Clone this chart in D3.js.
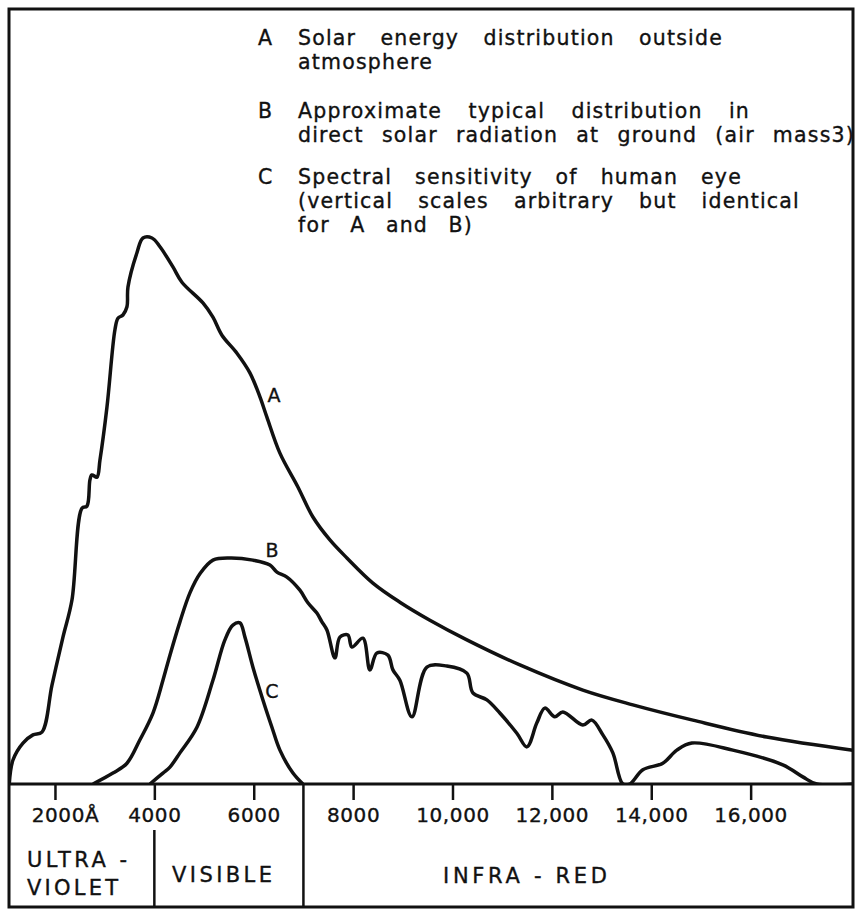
<!DOCTYPE html>
<html>
<head>
<meta charset="utf-8">
<script src="https://cdn.jsdelivr.net/npm/d3@7/dist/d3.min.js"></script>
<style>
	body { margin: 0; background: #fff; }
	svg text { font-family: "DejaVu Sans", sans-serif; fill: #111; stroke: #111; stroke-width: 0.35px; }
</style>
</head>
<body>
<svg id="chart" width="857" height="913"></svg>
<script>
'use strict';

// wavelength in angstrom, relative energy (arbitrary units, A peak = 100)
var curveA = [
	[1080, 0], [1155, 4.4], [1356, 7.5], [1557, 9.0], [1738, 9.5], [1940, 18.1],
	[2161, 26.9], [2342, 33.7], [2543, 50.5], [2644, 50.9], [2704, 55.7], [2744, 56.6],
	[2845, 56.2], [2905, 59.3], [3046, 69.0], [3207, 83.2], [3268, 85.3], [3368, 85.9],
	[3449, 87.4], [3469, 91.0], [3650, 97.3], [3771, 100], [3952, 100], [4113, 98.4],
	[4374, 94.7], [4555, 91.9], [4978, 88.1], [5179, 85.5], [5360, 82.2], [5662, 78.9],
	[5923, 75.3], [6125, 70.9], [6265, 67.2], [6527, 60.6], [6889, 54.4], [7191, 48.9],
	[7533, 44.7], [7875, 41.4], [8398, 36.8], [8941, 33.3], [9545, 30.0], [10289, 26.4],
	[11356, 21.8], [12623, 17.2], [13629, 14.5], [14837, 11.7], [16325, 8.6], [18056, 6.2]
];

var curveB = [
	[2765, 0], [3167, 2.0], [3449, 3.8], [3710, 8.1], [3972, 13.0], [4173, 19.0],
	[4314, 23.6], [4515, 29.7], [4716, 35.0], [4917, 38.5], [5179, 41.0], [5521, 41.4],
	[5984, 41.0], [6326, 40.1], [6467, 38.8], [6668, 37.9], [6929, 35.5], [7090, 33.2],
	[7271, 31.3], [7372, 29.7], [7473, 28.2], [7634, 23.1], [7734, 26.9], [7895, 27.3],
	[7976, 25.1], [8197, 26.7], [8338, 20.9], [8479, 24.0], [8700, 23.6], [8801, 20.9],
	[8941, 19.0], [9183, 12.3], [9485, 21.4], [9887, 21.6], [10289, 20.3], [10410, 16.7],
	[10692, 15.4], [10953, 13.0], [11295, 9.3], [11497, 6.8], [11698, 11.2], [11859, 13.9],
	[12060, 12.3], [12221, 13.2], [12623, 10.8], [12804, 11.7], [13026, 9.0], [13227, 5.7],
	[13428, 0], [13569, 0], [13831, 2.6], [14233, 3.8], [14515, 6.2], [14816, 7.5],
	[15641, 6.2], [16647, 3.5], [17050, 1.3], [17331, 0], [18056, 0]
];

var curveC = [
	[3911, 0], [4173, 2.0], [4314, 3.1], [4515, 5.7], [4857, 10.4], [5179, 19.0],
	[5420, 26.4], [5581, 29.1], [5722, 29.5], [5823, 26.9], [5984, 21.4], [6185, 15.4],
	[6366, 10.4], [6527, 6.2], [6789, 2.0], [6990, 0]
];

var tickValues = [2000, 4000, 6000, 8000, 10000, 12000, 14000, 16000];
var tickLabels = ["2000Å", "4000", "6000", "8000", "10,000", "12,000", "14,000", "16,000"];

// region boundaries in angstrom
var uvVisible = 4000;
var visibleIr = 7000;

var legendRows = [
	{ key: "A", lines: ["Solar energy distribution outside", "atmosphere"] },
	{ key: "B", lines: ["Approximate typical distribution in", "direct solar radiation at ground (air mass3)"] },
	{ key: "C", lines: ["Spectral sensitivity of human eye", "(vertical scales arbitrary but identical", "for A and B)"] }
];

var curveLabels = [
	{ text: "A", wl: 6406, v: 70 },
	{ text: "B", wl: 6366, v: 41.6 },
	{ text: "C", wl: 6366, v: 15.7 }
];

var FRAME_LEFT = 9;
var FRAME_RIGHT = 853;
var FRAME_TOP = 9;
var AXIS_Y = 784;
var FRAME_BOTTOM = 907;

var svg = d3.select("#chart");

var x = d3.scaleLinear()
	.domain([1075, 18060])
	.range([FRAME_LEFT, FRAME_RIGHT]);

var y = d3.scaleLinear()
	.domain([0, 100])
	.range([AXIS_Y, 238]);

svg.append("clipPath")
	.attr("id", "plot-clip")
	.append("rect")
	.attr("x", FRAME_LEFT)
	.attr("y", FRAME_TOP)
	.attr("width", FRAME_RIGHT - FRAME_LEFT)
	.attr("height", AXIS_Y - FRAME_TOP);

// outer frame
svg.append("rect")
	.attr("x", FRAME_LEFT)
	.attr("y", FRAME_TOP)
	.attr("width", FRAME_RIGHT - FRAME_LEFT)
	.attr("height", FRAME_BOTTOM - FRAME_TOP)
	.style("fill", "none")
	.style("stroke", "#111")
	.style("stroke-width", 3);

// curves
var line = d3.line()
	.x(function (d) { return x(d[0]); })
	.y(function (d) { return y(d[1]); })
	.curve(d3.curveCatmullRom.alpha(0.5));

[curveA, curveB, curveC].forEach(function (data) {
	svg.append("path")
		.datum(data)
		.attr("d", line)
		.attr("clip-path", "url(#plot-clip)")
		.style("fill", "none")
		.style("stroke", "#111")
		.style("stroke-width", 3.5)
		.style("stroke-linejoin", "round");
});

svg.selectAll(".curve-label")
	.data(curveLabels)
	.enter()
	.append("text")
	.classed("curve-label", 1)
	.attr("x", function (d) { return x(d.wl); })
	.attr("y", function (d) { return y(d.v); })
	.attr("text-anchor", "middle")
	.style("font-size", "19px")
	.text(function (d) { return d.text; });

// axis
var axis = d3.axisBottom(x)
	.tickValues(tickValues)
	.tickSize(16)
	.tickFormat(function (d, i) { return tickLabels[i]; });

var axisG = svg.append("g")
	.attr("transform", "translate(0," + AXIS_Y + ")")
	.call(axis);

axisG.select(".domain").remove();
axisG.selectAll(".tick line")
	.style("stroke", "#111")
	.style("stroke-width", 2.5);
axisG.selectAll(".tick text")
	.attr("y", 38)
	.attr("dy", null)
	.attr("dx", function (d, i) { return i === 0 ? 10 : 0; })
	.style("font-family", "DejaVu Sans, sans-serif")
	.style("font-size", "20px")
	.style("fill", "#111")
	.style("letter-spacing", "0.6px");

svg.append("line")
	.attr("x1", FRAME_LEFT).attr("x2", FRAME_RIGHT)
	.attr("y1", AXIS_Y).attr("y2", AXIS_Y)
	.style("stroke", "#111")
	.style("stroke-width", 3);

// region dividers
svg.append("line")
	.attr("x1", x(uvVisible)).attr("x2", x(uvVisible))
	.attr("y1", 830).attr("y2", FRAME_BOTTOM)
	.style("stroke", "#111")
	.style("stroke-width", 2.5);

svg.append("line")
	.attr("x1", x(visibleIr)).attr("x2", x(visibleIr))
	.attr("y1", AXIS_Y).attr("y2", FRAME_BOTTOM)
	.style("stroke", "#111")
	.style("stroke-width", 2.5);

// region names
var regionText = [
	{ text: "ULTRA -", x: 27, y: 867, len: 100 },
	{ text: "VIOLET", x: 27, y: 895, len: 91 },
	{ text: "VISIBLE", x: 172, y: 882, len: 100 },
	{ text: "INFRA - RED", x: 443, y: 883, len: 164 }
];

svg.selectAll(".region")
	.data(regionText)
	.enter()
	.append("text")
	.classed("region", 1)
	.attr("x", function (d) { return d.x; })
	.attr("y", function (d) { return d.y; })
	.attr("textLength", function (d) { return d.len; })
	.attr("lengthAdjust", "spacing")
	.style("font-size", "21px")
	.text(function (d) { return d.text; });

// legend: widen the word gaps until each line reaches its width in the original
var legendBaselines = [[45, 69], [118, 142], [184, 208, 232]];
var legendWidths = [[425, 132], [452, 557], [444, 502, 175]];

legendRows.forEach(function (row, r) {
	svg.append("text")
		.attr("x", 258)
		.attr("y", legendBaselines[r][0])
		.style("font-size", "20.5px")
		.text(row.key);

	row.lines.forEach(function (t, i) {
		var txt = svg.append("text")
			.attr("x", 298)
			.attr("y", legendBaselines[r][i])
			.style("font-size", "20.5px")
			.style("letter-spacing", "1.2px")
			.text(t);

		var natural = txt.node().getComputedTextLength();
		var gaps = t.split(" ").length - 1;
		var extra = legendWidths[r][i] - natural;
		if (gaps > 0 && extra > 0) {
			txt.style("word-spacing", (extra / gaps) + "px");
		}
	});
});
</script>
</body>
</html>
